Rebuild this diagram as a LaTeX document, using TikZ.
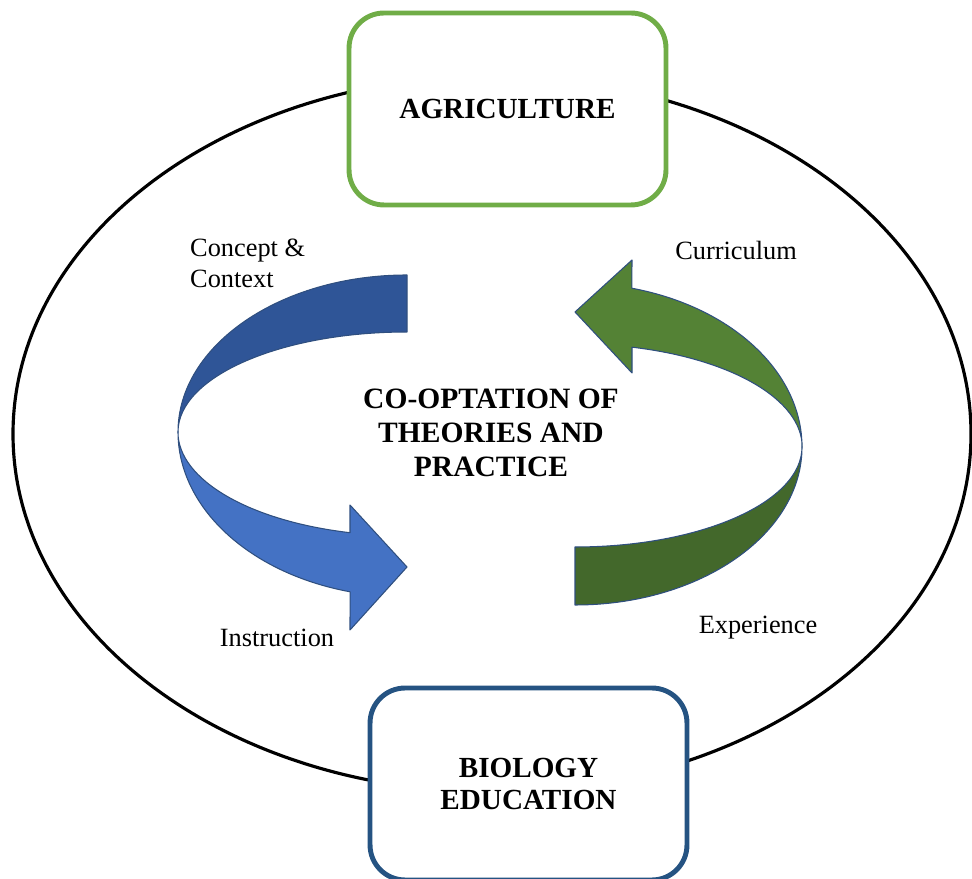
\documentclass[tikz,border=0pt]{standalone}
\usepackage{fontspec}
\setmainfont{Liberation Serif}
\usepackage{xcolor}
\definecolor{agrigreen}{HTML}{70AD47}
\definecolor{bioblue}{HTML}{255382}
\definecolor{blueup}{HTML}{2F5597}
\definecolor{bluelow}{HTML}{4472C4}
\definecolor{greenup}{HTML}{548235}
\definecolor{greenlow}{HTML}{43682B}
\definecolor{ribbonline}{HTML}{2F4F7F}

\begin{document}
\begin{tikzpicture}[x=0.02cm, y=0.02cm, every node/.style={font=\fontsize{15}{17.6}\selectfont, align=center},
  titlebox/.style={draw, line width=2.8pt, rounded corners=0.7cm, fill=white, minimum width=6.34cm, minimum height=3.84cm, font=\fontsize{16.6}{18.5}\selectfont\bfseries},
  ribbon/.style={draw=ribbonline, line width=0.6pt, line join=round}]

\useasboundingbox (0,0) rectangle (972,878);

\draw[line width=1.8pt] (492,444) ellipse [x radius=479, y radius=358];

\node(agri)[titlebox, draw=agrigreen] at (507.5,769) {AGRICULTURE};
\node(bio)[titlebox, draw=bioblue] at (528.5,94) {BIOLOGY\\EDUCATION};

\draw[ribbon, fill=blueup] (407,603) arc[start angle=90, end angle=180, x radius=229, y radius=157]
  arc[start angle=180, end angle=90, x radius=229, y radius=100] -- cycle;
\draw[ribbon, fill=bluelow] (178,446) arc[start angle=180, end angle=255.6, x radius=229, y radius=165]
  -- (350,248) -- (407,311) -- (350,373) -- (350,345.3)
  arc[start angle=255.6, end angle=180, x radius=229, y radius=104] -- cycle;

\draw[ribbon, fill=greenlow] (575,273) arc[start angle=270, end angle=360, x radius=227, y radius=158]
  arc[start angle=0, end angle=-90, x radius=227, y radius=100] -- cycle;
\draw[ribbon, fill=greenup] (802,431) arc[start angle=0, end angle=75.5, x radius=227, y radius=164]
  -- (632,618) -- (575,566) -- (632,505) -- (632,530.8)
  arc[start angle=75.5, end angle=0, x radius=227, y radius=103] -- cycle;

\node(core)[font=\fontsize{16.8}{19.3}\selectfont\bfseries] at (491,445) {CO-OPTATION OF\\THEORIES AND\\PRACTICE};

\node(concept)[anchor=west, align=left] at (184,615) {Concept \&\\Context};
\node(curric) at (736,628) {Curriculum};
\node(instr) at (277,240) {Instruction};
\node(exper) at (758,250) {Experience};
\end{tikzpicture}
\end{document}
